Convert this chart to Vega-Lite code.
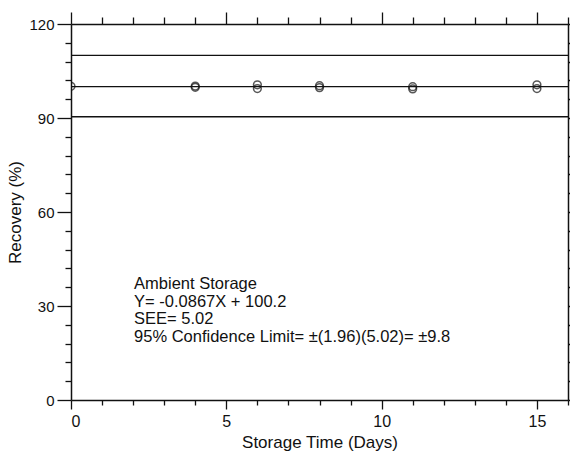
{
  "$schema": "https://vega.github.io/schema/vega-lite/v6.json",
  "width": 497,
  "height": 376,
  "autosize": {"type": "none"},
  "padding": {"left": 71, "top": 24, "right": 2, "bottom": 51},
  "background": "white",
  "config": {
    "view": {"stroke": null},
    "font": "Liberation Sans",
    "axis": {
      "grid": false,
      "domainColor": "#111",
      "domainWidth": 1.5,
      "tickColor": "#111",
      "tickWidth": 1.3,
      "labelColor": "#111",
      "titleColor": "#111",
      "labelFontSize": 16,
      "titleFontSize": 17,
      "titleFontWeight": "normal",
      "labelFont": "Liberation Sans",
      "titleFont": "Liberation Sans"
    }
  },
  "datasets": {
    "pts": [
      {"day": 0, "rec": 100.1},
      {"day": 4, "rec": 99.8},
      {"day": 4, "rec": 100.2},
      {"day": 6, "rec": 99.4},
      {"day": 6, "rec": 100.6},
      {"day": 8, "rec": 99.7},
      {"day": 8, "rec": 100.3},
      {"day": 11, "rec": 99.3},
      {"day": 11, "rec": 100.0},
      {"day": 15, "rec": 99.4},
      {"day": 15, "rec": 100.6}
    ],
    "lines": [
      {"rec": 110.0},
      {"rec": 100.0},
      {"rec": 90.4}
    ],
    "notes": [
      {"tx": 2.03, "ty": 36.9, "label": "Ambient Storage"},
      {"tx": 2.03, "ty": 31.3, "label": "Y= -0.0867X + 100.2"},
      {"tx": 2.03, "ty": 25.7, "label": "SEE= 5.02"},
      {"tx": 2.03, "ty": 20.1, "label": "95% Confidence Limit= ±(1.96)(5.02)= ±9.8"}
    ],
    "frame": [{"day": 0, "rec": 0}]
  },
  "layer": [
    {
      "data": {"name": "frame"},
      "mark": {"type": "point", "opacity": 0},
      "encoding": {
        "x": {
          "field": "day", "type": "quantitative",
          "scale": {"domain": [0, 16], "nice": false, "zero": false},
          "axis": {
            "orient": "bottom",
            "title": "Storage Time (Days)",
            "values": [0,1,2,3,4,5,6,7,8,9,10,11,12,13,14,15,16],
            "labelExpr": "datum.value % 5 === 0 && datum.value < 16 ? datum.label : ''",
            "tickSize": {"condition": {"test": "datum.value % 5 === 0", "value": 9}, "value": 5},
            "labelFontSize": 16,
            "labelPadding": 4,
            "titlePadding": 5
          }
        },
        "y": {
          "field": "rec", "type": "quantitative",
          "scale": {"domain": [0, 120], "nice": false, "zero": false},
          "axis": {
            "orient": "left",
            "title": "Recovery (%)",
            "values": [0,6,12,18,24,30,36,42,48,54,60,66,72,78,84,90,96,102,108,114,120],
            "labelExpr": "datum.value % 30 === 0 ? datum.label : ''",
            "tickSize": {"condition": {"test": "datum.value % 30 === 0", "value": 14}, "value": 6},
            "labelFontSize": 15,
            "labelPadding": 3,
            "titlePadding": 4
          }
        }
      }
    },
    {
      "data": {"name": "frame"},
      "mark": {"type": "point", "opacity": 0},
      "encoding": {
        "x": {
          "field": "day", "type": "quantitative",
          "axis": {
            "orient": "top",
            "title": null,
            "labels": false,
            "values": [0,1,2,3,4,5,6,7,8,9,10,11,12,13,14,15,16],
            "tickSize": {"condition": {"test": "datum.value % 5 === 0", "value": 12}, "value": 7}
          }
        },
        "y": {
          "field": "rec", "type": "quantitative",
          "axis": {
            "orient": "right",
            "title": null,
            "labels": false,
            "values": [0,6,12,18,24,30,36,42,48,54,60,66,72,78,84,90,96,102,108,114,120],
            "tickSize": 4
          }
        }
      }
    },
    {
      "data": {"name": "lines"},
      "mark": {"type": "rule", "color": "#111", "strokeWidth": 1.4},
      "encoding": {
        "y": {"field": "rec", "type": "quantitative", "axis": null}
      }
    },
    {
      "data": {"name": "pts"},
      "mark": {"type": "point", "shape": "circle", "filled": false, "color": "#111", "size": 60, "strokeWidth": 1.5, "clip": true},
      "encoding": {
        "x": {"field": "day", "type": "quantitative", "axis": null},
        "y": {"field": "rec", "type": "quantitative", "axis": null}
      }
    },
    {
      "data": {"name": "notes"},
      "mark": {"type": "text", "align": "left", "baseline": "middle", "fontSize": 16.5, "color": "#111", "font": "Liberation Sans"},
      "encoding": {
        "x": {"field": "tx", "type": "quantitative", "axis": null},
        "y": {"field": "ty", "type": "quantitative", "axis": null},
        "text": {"field": "label"}
      }
    }
  ],
  "resolve": {"axis": {"x": "independent", "y": "independent"}}
}
